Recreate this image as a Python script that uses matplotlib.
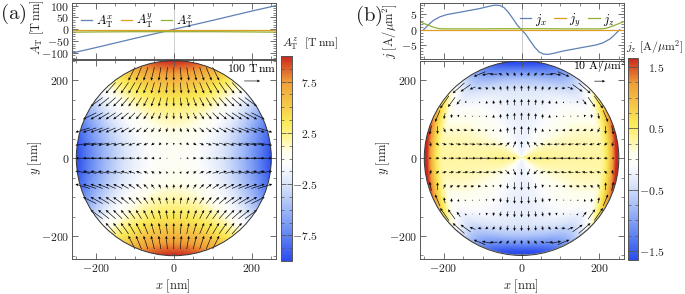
import numpy as np
import matplotlib
matplotlib.use('Agg')
import matplotlib.pyplot as plt
from matplotlib.colors import LinearSegmentedColormap
from matplotlib.patches import Circle
from matplotlib.ticker import MultipleLocator, FuncFormatter, NullFormatter

plt.rcParams['mathtext.fontset'] = 'cm'
plt.rcParams['font.family'] = 'serif'
plt.rcParams['font.serif'] = ['DejaVu Serif']

R = 250.0

# (a) top plot: cut along y = 0
xa_cut = [-261, -200, -100, 0, 100, 200, 262]
Ax_cut = [-100, -77, -38, 0, 38, 77, 100]
Ay_cut = [-3, -3, -3, -3, -3, -3, -3]
Az_cut = [-12, -11, -10, -10, -10, -11, -12]

# (a) map: values read along the two symmetry axes (distance from centre)
ra = [0, 25, 50, 75, 100, 125, 150, 175, 200, 225, 250]
Ax_on_x = [0, 10, 19, 29, 38, 48, 58, 67, 77, 87, 96]
Ay_on_y = [0, -10, -19, -29, -38, -48, -58, -67, -77, -87, -96]
Az_on_x = [0, -0.1, -0.4, -0.9, -1.6, -2.5, -3.6, -4.9, -6.4, -8.1, -10]
Az_on_y = [0, 0.1, 0.4, 0.9, 1.6, 2.5, 3.6, 4.9, 6.4, 8.1, 10]

# (b) top plot: cut along y = 0
xb_cut = [-252, -244, -236, -227, -210, -193, -150, -107, -81, -69, -56, -45, -34, -21, -11, 0,
          11, 21, 34, 45, 56, 69, 81, 107, 150, 193, 210, 227, 236, 244, 252]
jx_cut = [0, 1.0, 2.0, 3.0, 4.2, 4.9, 5.9, 6.9, 7.7, 8.0, 7.9, 7.2, 5.7, 3.4, 1.5, 0,
          -1.5, -3.4, -5.7, -7.2, -7.9, -8.0, -7.7, -6.9, -5.9, -4.9, -4.2, -3.0, -2.0, -1.0, 0]
xz_cut = [-261, -250, -240, -230, -220, -210, -200, -150, -100, -50, 0,
          50, 100, 150, 200, 210, 220, 230, 240, 250, 262]
jz_cut = [2.6, 2.0, 1.5, 1.0, 0.6, 0.35, 0.3, 0.3, 0.3, 0.35, 0.35,
          0.35, 0.3, 0.3, 0.3, 0.35, 0.6, 1.0, 1.5, 2.0, 2.6]
xy_cut = [-261, 262]
jy_cut = [0, 0]

# (b) map: j_z along x = 0
rb = [0, 50, 100, 150, 175, 200, 215, 230, 240, 250]
jz_on_y = [-0.25, -0.25, -0.27, -0.3, -0.4, -0.7, -1.0, -1.35, -1.6, -1.8]

blue, orange, green = '#5E81B5', '#E19C24', '#8FB032'
frame_c = '#555555'

cm_nodes = [0.0, 0.125, 0.25, 0.375, 0.47, 0.53, 0.6, 0.68, 0.875, 1.0]
cm_cols = [(0.17, 0.30, 0.93), (0.38, 0.52, 0.95), (0.62, 0.72, 0.97),
           (0.86, 0.90, 0.98), (0.99, 0.99, 0.99), (1.0, 1.0, 0.93),
           (1.0, 0.96, 0.60), (0.98, 0.91, 0.33), (0.94, 0.62, 0.22),
           (0.80, 0.15, 0.12)]
tmap = LinearSegmentedColormap.from_list('temp', list(zip(cm_nodes, cm_cols)))

W, H = 685, 294
fig = plt.figure(figsize=(6.85, 2.94), dpi=100)


def box(x0, y0, x1, y1):
    return [x0 / W, 1 - y1 / H, (x1 - x0) / W, (y1 - y0) / H]


fmt = FuncFormatter(lambda v, p: '$%g$' % v)


def style(ax, ymaj, ymin):
    for s in ax.spines.values():
        s.set_color(frame_c)
        s.set_linewidth(0.7)
    ax.xaxis.set_major_locator(MultipleLocator(200))
    ax.xaxis.set_minor_locator(MultipleLocator(50))
    ax.yaxis.set_major_locator(MultipleLocator(ymaj))
    ax.yaxis.set_minor_locator(MultipleLocator(ymin))
    ax.xaxis.set_major_formatter(fmt)
    ax.yaxis.set_major_formatter(fmt)
    ax.tick_params(which='both', direction='in', top=True, right=True, color=frame_c,
                   labelsize=8.5, pad=2, labelcolor='#222222')
    ax.tick_params(which='major', length=4, width=0.6)
    ax.tick_params(which='minor', length=2, width=0.5)


# pixel grid for the colour maps
g = np.linspace(-R, R, 501)
GX, GY = np.meshgrid(g, g)
GR = np.hypot(GX, GY)
C2 = GX**2 / np.maximum(GR, 1e-9)**2
outside = GR > R

# arrow grid
qx, qy = np.meshgrid(np.arange(-13, 14) * 18.0, np.arange(-6, 7) * 36.0)
keep = np.hypot(qx, qy) < R - 4
qx, qy = qx[keep], qy[keep]
qr = np.hypot(qx, qy)


def draw_map(ax, field, lim, U, V, scale, kval, klabel):
    im = ax.imshow(np.ma.masked_where(outside, field), extent=(-R, R, -R, R), origin='lower',
                   cmap=tmap, vmin=-lim, vmax=lim, interpolation='bilinear', zorder=1)
    disk = Circle((0, 0), R, transform=ax.transData, fc='none', ec='#333333', lw=0.7, zorder=4)
    ax.add_patch(disk)
    im.set_clip_path(disk)
    q = ax.quiver(qx, qy, U, V, pivot='middle', angles='xy', scale_units='xy', scale=scale,
                  width=0.003, headwidth=4.5, headlength=5, headaxislength=4.5, minlength=0,
                  color='k', zorder=3)
    ax.quiverkey(q, 201, 198, kval, klabel, coordinates='data', labelpos='N', labelsep=0.06,
                 fontproperties={'size': 8.5})
    ax.set_xlim(-261, 262)
    ax.set_ylim(-259, 251)
    style(ax, 200, 50)
    return im


def draw_cut(ax, lines, ylim, ymaj, ymin, loc):
    ax.axvline(0, color='#c4c4c4', lw=0.6, zorder=0)
    for xs, ys, c, lab in lines:
        ax.plot(xs, ys, color=c, lw=0.9, label=lab)
    ax.set_xlim(-261, 262)
    ax.set_ylim(*ylim)
    style(ax, ymaj, ymin)
    ax.xaxis.set_major_formatter(NullFormatter())
    ax.legend(loc=loc, ncol=3, frameon=False, fontsize=9, handlelength=0.9,
              handletextpad=0.3, columnspacing=0.6, borderaxespad=0.3)


def draw_cbar(im, rect, ticks, minor):
    cax = fig.add_axes(box(*rect))
    cb = fig.colorbar(im, cax=cax)
    cb.outline.set_edgecolor(frame_c)
    cb.outline.set_linewidth(0.7)
    cb.set_ticks(ticks)
    cax.yaxis.set_minor_locator(MultipleLocator(minor))
    cax.yaxis.set_major_formatter(fmt)
    cax.tick_params(which='both', direction='in', left=True, right=True, color=frame_c,
                    labelsize=8.5, labelcolor='#222222')
    cax.tick_params(which='major', length=3.5, width=0.6, pad=19)
    cax.tick_params(which='minor', length=2, width=0.5)
    plt.setp(cax.get_yticklabels(), ha='right')


# ---------- panel (a)
ax_top = fig.add_axes(box(72, 3, 276, 59))
draw_cut(ax_top, [(xa_cut, Ax_cut, blue, r'$A_\mathrm{T}^x$'),
                  (xa_cut, Ay_cut, orange, r'$A_\mathrm{T}^y$'),
                  (xa_cut, Az_cut, green, r'$A_\mathrm{T}^z$')],
         (-125, 111), 50, 10, 'upper left')

Az = np.interp(GR, ra, Az_on_x) * C2 + np.interp(GR, ra, Az_on_y) * (1 - C2)
Ua = np.sign(qx) * np.interp(np.abs(qx), ra, Ax_on_x)
Va = np.sign(qy) * np.interp(np.abs(qy), ra, Ay_on_y)
ax_map = fig.add_axes(box(72, 59, 276, 260.5))
im_a = draw_map(ax_map, Az, 10, Ua, Va, 100 / 41.0, 100, r'$100\ \mathrm{T\,nm}$')
draw_cbar(im_a, (281, 56, 291.5, 261), [-7.5, -2.5, 2.5, 7.5], 1.25)

# ---------- panel (b)
bx_top = fig.add_axes(box(420, 3, 623.5, 59))
draw_cut(bx_top, [(xb_cut, jx_cut, blue, r'$j_x$'),
                  (xy_cut, jy_cut, orange, r'$j_y$'),
                  (xz_cut, jz_cut, green, r'$j_z$')],
         (-9.5, 8.7), 5, 1, 'upper right')

jz_map = np.interp(-GR, xz_cut, jz_cut) * C2 + np.interp(GR, rb, jz_on_y) * (1 - C2)
# in-plane current from a stream function built on the j_x cut
rr = np.linspace(1, R, 500)
gfun = np.interp(-rr, xb_cut, jx_cut) / rr
dgfun = np.gradient(gfun, rr)
gi = np.interp(qr, rr, gfun)
dgi = np.interp(qr, rr, dgfun)
Ub = -qx * (gi + qy**2 * dgi / np.maximum(qr, 1e-9))
Vb = qy * (gi + qx**2 * dgi / np.maximum(qr, 1e-9))
bx_map = fig.add_axes(box(420, 59, 623.5, 260.5))
im_b = draw_map(bx_map, jz_map, 1.65, Ub, Vb, 10 / 28.0, 10, r'$10\ \mathrm{A}/\mu\mathrm{m}^2$')
draw_cbar(im_b, (628, 58, 638, 260), [-1.5, -0.5, 0.5, 1.5], 0.25)

# ---------- labels
def ftext(x, y, s, **kw):
    fig.text(x / W, 1 - y / H, s, ha='center', va='center', color='#222222', **kw)

ftext(13, 14, r'$(\mathrm{a})$', fontsize=15)
ftext(369, 16, r'$(\mathrm{b})$', fontsize=15)
ftext(37, 27, r'$A_\mathrm{T}\ [\mathrm{T\,nm}]$', fontsize=9, rotation=90)
ftext(390, 31, r'$j\ [\mathrm{A}/\mu\mathrm{m}^2]$', fontsize=9, rotation=90)
ftext(35, 158, r'$y\ [\mathrm{nm}]$', fontsize=9, rotation=90)
ftext(383, 158, r'$y\ [\mathrm{nm}]$', fontsize=9, rotation=90)
ftext(173, 286, r'$x\ [\mathrm{nm}]$', fontsize=9)
ftext(521, 286, r'$x\ [\mathrm{nm}]$', fontsize=9)
ftext(310, 44, r'$A_\mathrm{T}^z\ \ [\mathrm{T\,nm}]$', fontsize=8.5)
ftext(655, 47, r'$j_z\ [\mathrm{A}/\mu\mathrm{m}^2]$', fontsize=8.5)

fig.savefig('out.png', dpi=100)
